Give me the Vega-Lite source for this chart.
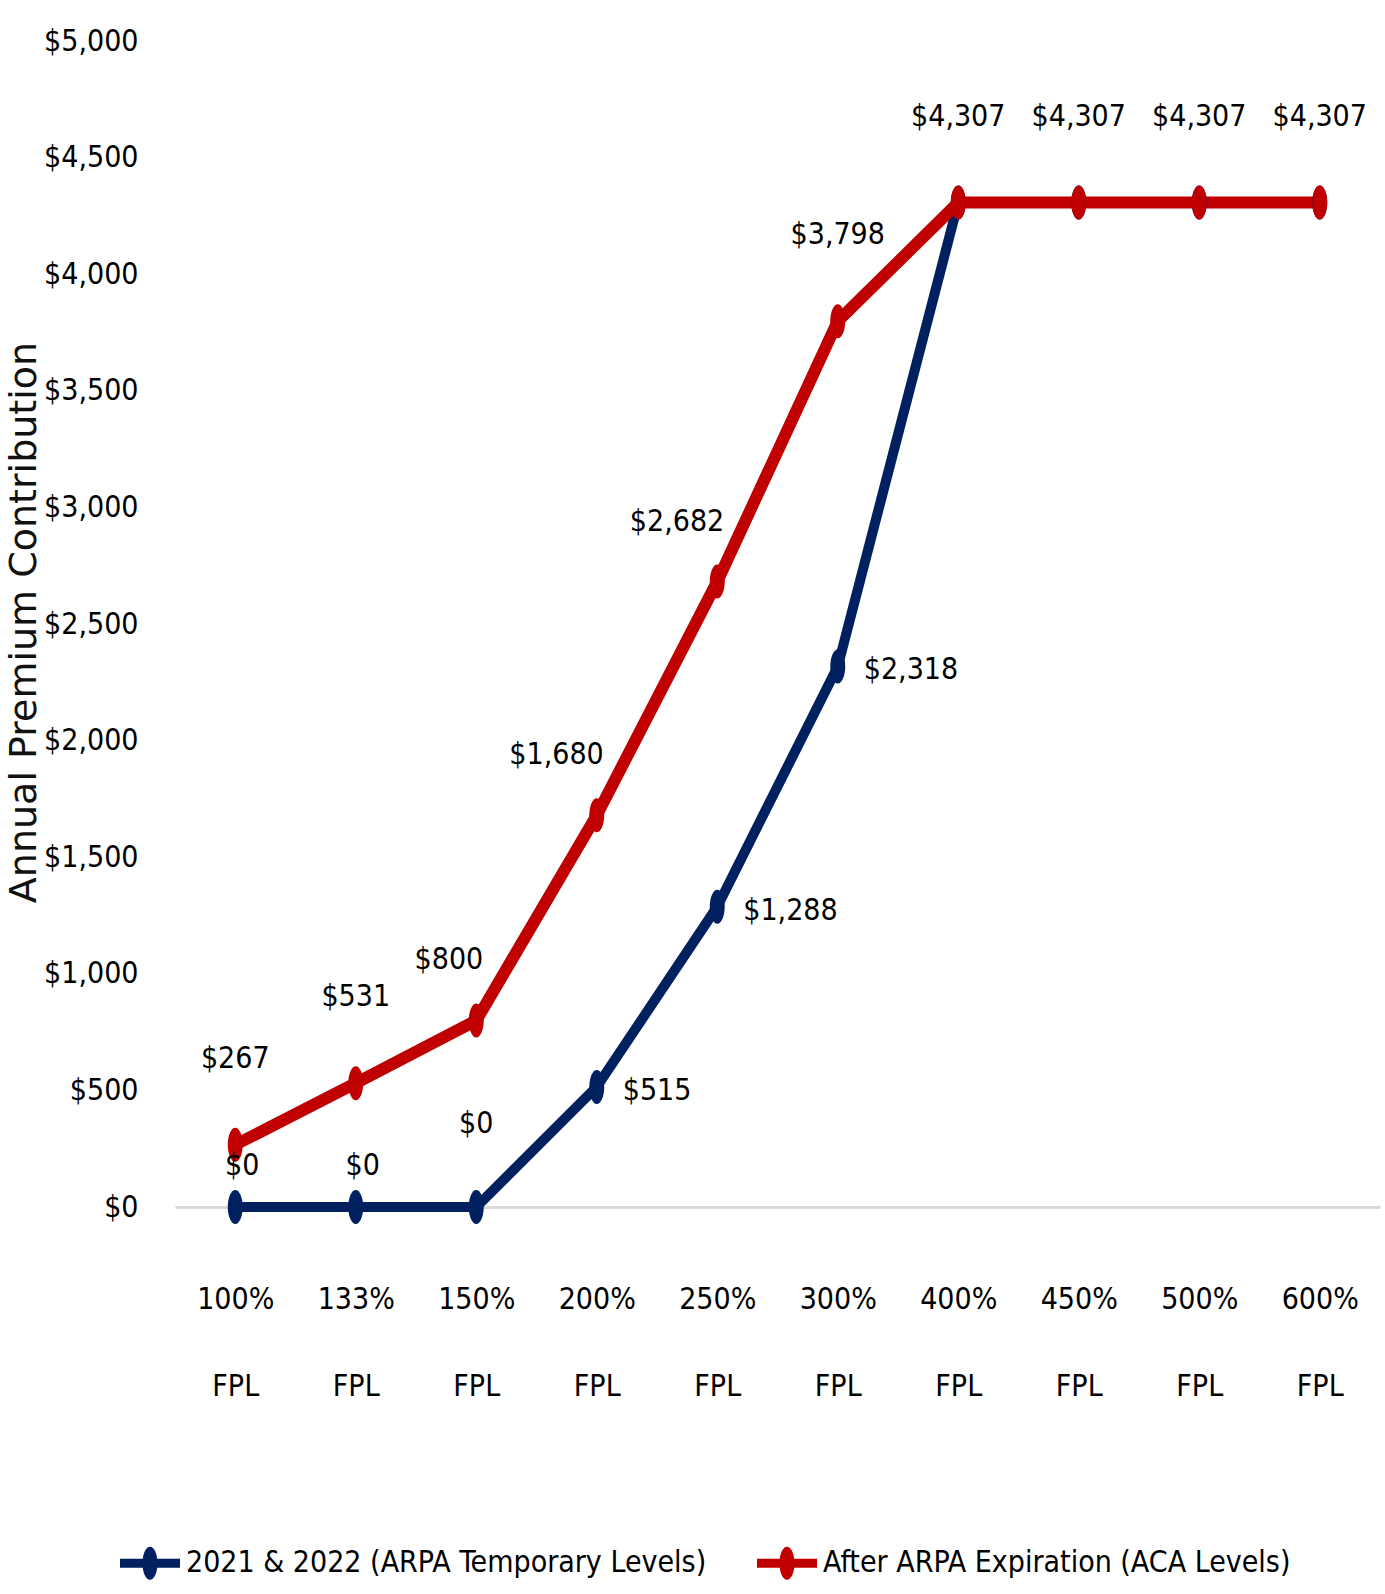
{
  "$schema": "https://vega.github.io/schema/vega-lite/v6.json",
  "autosize": "none",
  "width": 1205,
  "height": 1166,
  "padding": {"left": 175, "top": 41, "right": 5, "bottom": 387},
  "background": "white",
  "config": {
    "view": {"stroke": null},
    "font": "Liberation Sans Narrow, DejaVu Sans Condensed, sans-serif"
  },
  "data": {
    "values": [
      {"fpl": "100% FPL", "series": "2021 & 2022 (ARPA Temporary Levels)", "value": 0},
      {"fpl": "133% FPL", "series": "2021 & 2022 (ARPA Temporary Levels)", "value": 0},
      {"fpl": "150% FPL", "series": "2021 & 2022 (ARPA Temporary Levels)", "value": 0},
      {"fpl": "200% FPL", "series": "2021 & 2022 (ARPA Temporary Levels)", "value": 515},
      {"fpl": "250% FPL", "series": "2021 & 2022 (ARPA Temporary Levels)", "value": 1288},
      {"fpl": "300% FPL", "series": "2021 & 2022 (ARPA Temporary Levels)", "value": 2318},
      {"fpl": "400% FPL", "series": "2021 & 2022 (ARPA Temporary Levels)", "value": 4307},
      {"fpl": "450% FPL", "series": "2021 & 2022 (ARPA Temporary Levels)", "value": 4307},
      {"fpl": "500% FPL", "series": "2021 & 2022 (ARPA Temporary Levels)", "value": 4307},
      {"fpl": "600% FPL", "series": "2021 & 2022 (ARPA Temporary Levels)", "value": 4307},
      {"fpl": "100% FPL", "series": "After ARPA Expiration (ACA Levels)", "value": 267},
      {"fpl": "133% FPL", "series": "After ARPA Expiration (ACA Levels)", "value": 531},
      {"fpl": "150% FPL", "series": "After ARPA Expiration (ACA Levels)", "value": 800},
      {"fpl": "200% FPL", "series": "After ARPA Expiration (ACA Levels)", "value": 1680},
      {"fpl": "250% FPL", "series": "After ARPA Expiration (ACA Levels)", "value": 2682},
      {"fpl": "300% FPL", "series": "After ARPA Expiration (ACA Levels)", "value": 3798},
      {"fpl": "400% FPL", "series": "After ARPA Expiration (ACA Levels)", "value": 4307},
      {"fpl": "450% FPL", "series": "After ARPA Expiration (ACA Levels)", "value": 4307},
      {"fpl": "500% FPL", "series": "After ARPA Expiration (ACA Levels)", "value": 4307},
      {"fpl": "600% FPL", "series": "After ARPA Expiration (ACA Levels)", "value": 4307}
    ]
  },
  "encoding": {
    "x": {
      "field": "fpl",
      "type": "nominal",
      "scale": {"type": "point", "padding": 0.5, "domain": ["100% FPL","133% FPL","150% FPL","200% FPL","250% FPL","300% FPL","400% FPL","450% FPL","500% FPL","600% FPL"]},
      "axis": {
        "title": null,
        "labelAngle": 0,
        "labelExpr": "split(datum.label, ' ')",
        "labelLineHeight": 87,
        "labelFontSize": 30,
        "labelColor": "#000000",
        "labelBaseline": "top",
        "labelPadding": 77,
        "ticks": false,
        "domain": true,
        "domainColor": "#D9D9D9",
        "domainWidth": 3,
        "grid": false
      }
    },
    "y": {
      "field": "value",
      "type": "quantitative",
      "scale": {"domain": [0, 5000], "nice": false},
      "axis": {
        "title": "Annual Premium Contribution",
        "titleFont": "DejaVu Sans",
        "titleFontSize": 38,
        "titleFontWeight": "normal",
        "titleColor": "#111111",
        "titleAngle": -90,
        "titleX": -170,
        "titleY": 581,
        "titleAlign": "center",
        "titleBaseline": "top",
        "values": [0,500,1000,1500,2000,2500,3000,3500,4000,4500,5000],
        "format": "$,.0f",
        "labelFontSize": 30,
        "labelColor": "#000000",
        "labelPadding": 37,
        "ticks": false,
        "domain": false,
        "grid": false
      }
    }
  },
  "layer": [
    {
      "transform": [{"filter": "datum.series == '2021 & 2022 (ARPA Temporary Levels)'"}],
      "mark": {"type": "line", "strokeWidth": 10, "color": "#002060"},
      "encoding": {}
    },
    {
      "transform": [{"filter": "datum.series == 'After ARPA Expiration (ACA Levels)'"}],
      "mark": {"type": "line", "strokeWidth": 12, "color": "#C00000"},
      "encoding": {}
    },
    {
      "mark": {
        "type": "point",
        "filled": true,
        "opacity": 1,
        "size": 1156,
        "shape": "M -0.44 0 A 0.44 1 0 1 1 0.44 0 A 0.44 1 0 1 1 -0.44 0 Z"
      },
      "encoding": {
        "color": {
          "field": "series",
          "type": "nominal",
          "scale": {"domain": ["2021 & 2022 (ARPA Temporary Levels)", "After ARPA Expiration (ACA Levels)"], "range": ["#002060", "#C00000"]},
          "legend": {
            "title": null,
            "orient": "none",
            "legendX": -55,
            "legendY": 1492,
            "direction": "horizontal",
            "columns": 2,
            "columnPadding": 50,
            "padding": 0,
            "symbolType": "M -1 -0.15 L 1 -0.15 L 1 0.15 L -1 0.15 Z M -0.25 0 A 0.25 0.55 0 1 1 0.25 0 A 0.25 0.55 0 1 1 -0.25 0 Z",
            "symbolSize": 3600,
            "symbolStrokeWidth": 0,
            "symbolOpacity": 1,
            "labelFontSize": 30,
            "labelColor": "#000000",
            "labelLimit": 800,
            "labelOffset": 6
          }
        },
        "order": {"field": "series", "sort": "ascending"}
      }
    },
    {
      "transform": [{"filter": "datum.series == 'After ARPA Expiration (ACA Levels)' && indexof(['100% FPL','133% FPL','300% FPL','400% FPL','450% FPL','500% FPL','600% FPL'], datum.fpl) >= 0"}],
      "mark": {"type": "text", "fontSize": 30, "color": "#000000", "align": "center", "baseline": "middle", "dy": -86},
      "encoding": {"text": {"field": "value", "type": "quantitative", "format": "$,.0f"}}
    },
    {
      "transform": [{"filter": "datum.series == 'After ARPA Expiration (ACA Levels)' && indexof(['150% FPL','200% FPL','250% FPL'], datum.fpl) >= 0"}],
      "mark": {"type": "text", "fontSize": 30, "color": "#000000", "align": "right", "baseline": "middle", "dx": 7, "dy": -60},
      "encoding": {"text": {"field": "value", "type": "quantitative", "format": "$,.0f"}}
    },
    {
      "transform": [{"filter": "datum.series == '2021 & 2022 (ARPA Temporary Levels)' && indexof(['100% FPL','133% FPL'], datum.fpl) >= 0"}],
      "mark": {"type": "text", "fontSize": 30, "color": "#000000", "align": "center", "baseline": "middle", "dx": 7, "dy": -41},
      "encoding": {"text": {"field": "value", "type": "quantitative", "format": "$,.0f"}}
    },
    {
      "transform": [{"filter": "datum.series == '2021 & 2022 (ARPA Temporary Levels)' && datum.fpl == '150% FPL'"}],
      "mark": {"type": "text", "fontSize": 30, "color": "#000000", "align": "center", "baseline": "middle", "dy": -83},
      "encoding": {"text": {"field": "value", "type": "quantitative", "format": "$,.0f"}}
    },
    {
      "transform": [{"filter": "datum.series == '2021 & 2022 (ARPA Temporary Levels)' && indexof(['200% FPL','250% FPL','300% FPL'], datum.fpl) >= 0"}],
      "mark": {"type": "text", "fontSize": 30, "color": "#000000", "align": "left", "baseline": "middle", "dx": 26, "dy": 4},
      "encoding": {"text": {"field": "value", "type": "quantitative", "format": "$,.0f"}}
    }
  ]
}
